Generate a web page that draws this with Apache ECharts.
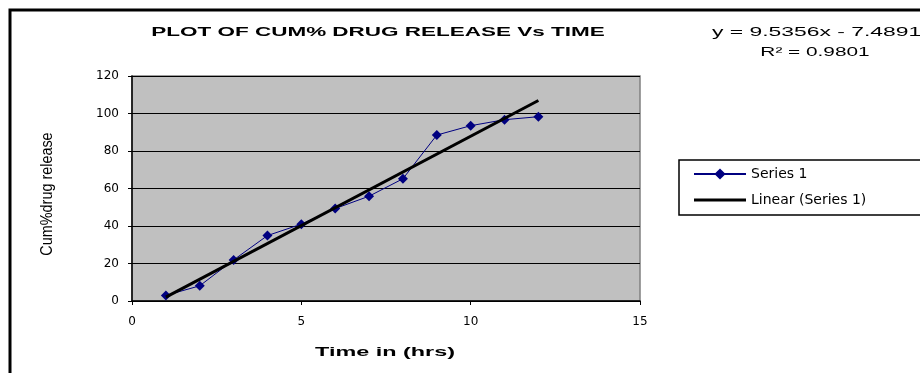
<!DOCTYPE html>
<html>
<head>
<meta charset="utf-8">
<script src="https://cdn.jsdelivr.net/npm/echarts@6/dist/echarts.min.js"></script>
<style>
html,body{margin:0;padding:0;background:#fff;}
#chart{width:920px;height:373px;}
</style>
</head>
<body>
<div id="chart"></div>
<script>
// Data
var timeHrs = [1, 2, 3, 4, 5, 6, 7, 8, 9, 10, 11, 12];
var cumRelease = [3.0, 8.1, 21.9, 34.9, 41.0, 49.3, 55.9, 65.2, 88.5, 93.5, 96.7, 98.3];
var trendX = [1, 12];
var trendY = [2.05, 106.94];
var xTicks = [0, 5, 10, 15];
var yTicks = [0, 20, 40, 60, 80, 100, 120];
var titleText = 'PLOT OF CUM% DRUG RELEASE Vs TIME';
var equationText = 'y = 9.5356x - 7.4891';
var r2Text = 'R\u00B2 = 0.9801';
var xName = 'Time in (hrs)';
var yName = 'Cum%drug release';
var seriesNames = ['Series 1', 'Linear (Series 1)'];

var chart = echarts.init(document.getElementById('chart'), null, {renderer: 'canvas'});

var seriesData = timeHrs.map(function (t, i) { return [t, cumRelease[i]]; });
var trendData = trendX.map(function (t, i) { return [t, trendY[i]]; });

var option = {
  backgroundColor: '#ffffff',
  animation: false,
  grid: {
    left: 132, top: 76, width: 508, height: 225,
    show: true, backgroundColor: '#C0C0C0', borderColor: '#808080', borderWidth: 1.5
  },
  xAxis: {
    type: 'value', min: xTicks[0], max: xTicks[xTicks.length - 1], interval: 5,
    axisLine: {show: true, onZero: false, lineStyle: {color: '#000', width: 1.5}},
    axisTick: {show: true, inside: false, length: 4, lineStyle: {color: '#000', width: 1}},
    axisLabel: {color: '#000', fontFamily: 'DejaVu Sans', fontSize: 12, margin: 15},
    splitLine: {show: false}
  },
  yAxis: {
    type: 'value', min: yTicks[0], max: yTicks[yTicks.length - 1], interval: 20,
    axisLine: {show: true, onZero: false, lineStyle: {color: '#000', width: 1.5}},
    axisTick: {show: true, inside: false, length: 4, lineStyle: {color: '#000', width: 1}},
    axisLabel: {color: '#000', fontFamily: 'DejaVu Sans', fontSize: 12, margin: 13},
    splitLine: {show: true, lineStyle: {color: '#000', width: 1}}
  },
  legend: {
    orient: 'vertical', left: 679, top: 160,
    data: [
      {name: seriesNames[0]},
      {name: seriesNames[1], icon: 'path://M0,0L52,0L52,3L0,3Z'}
    ],
    borderColor: '#000', borderWidth: 1.5, borderRadius: 0,
    backgroundColor: '#fff',
    padding: [7, 60, 8, 14],
    itemWidth: 52, itemHeight: 14, itemGap: 12,
    textStyle: {color: '#000', fontFamily: 'DejaVu Sans', fontSize: 14}
  },
  series: [
    {
      name: seriesNames[0], type: 'line', data: seriesData,
      symbol: 'diamond', symbolSize: 10, z: 3,
      itemStyle: {color: '#000080'},
      lineStyle: {color: '#000080', width: 1}
    },
    {
      name: seriesNames[1], type: 'line', data: trendData,
      symbol: 'none', showSymbol: false, z: 4,
      itemStyle: {color: '#000'},
      lineStyle: {color: '#000', width: 3}
    }
  ],
  graphic: [
    {type: 'rect', shape: {x: 10, y: 10, width: 1000, height: 500}, style: {fill: 'none', stroke: '#000', lineWidth: 3}, silent: true, z: 100},
    {type: 'text', x: 378, y: 32, scaleX: 1.73, style: {text: titleText, fontFamily: 'Liberation Sans', fontWeight: 'bold', fontSize: 13, fill: '#000', textAlign: 'center', textVerticalAlign: 'middle'}},
    {type: 'text', x: 712, y: 32, scaleX: 1.76, style: {text: equationText, fontFamily: 'Liberation Sans', fontSize: 13, fill: '#000', textAlign: 'left', textVerticalAlign: 'middle'}},
    {type: 'text', x: 815, y: 52, scaleX: 1.6, style: {text: r2Text, fontFamily: 'Liberation Sans', fontSize: 13, fill: '#000', textAlign: 'center', textVerticalAlign: 'middle'}},
    {type: 'text', x: 385, y: 352, scaleX: 1.8, style: {text: xName, fontFamily: 'Liberation Sans', fontWeight: 'bold', fontSize: 13, fill: '#000', textAlign: 'center', textVerticalAlign: 'middle'}},
    {type: 'text', x: 48, y: 194, rotation: Math.PI / 2, scaleX: 1.2, scaleY: 1.3, style: {text: yName, fontFamily: 'Liberation Sans', fontSize: 12, fill: '#000', textAlign: 'center', textVerticalAlign: 'middle'}}
  ]
};
chart.setOption(option);
</script>
</body>
</html>
